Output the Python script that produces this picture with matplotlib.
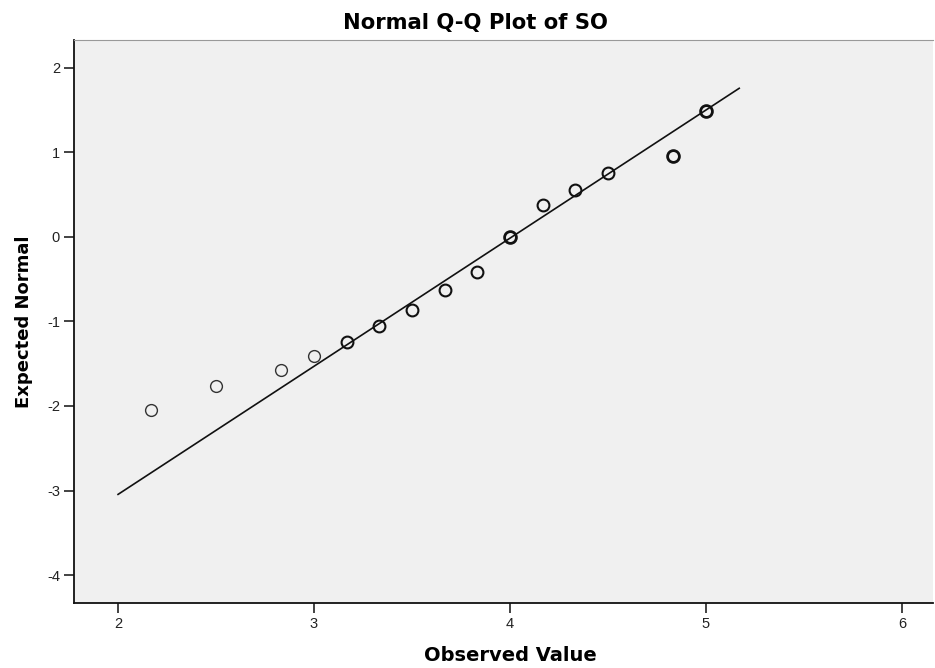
import matplotlib
matplotlib.use("Agg")
import matplotlib.pyplot as plt

plt.rcParams['font.family'] = ['Liberation Sans', 'DejaVu Sans']
plt.rcParams['axes.unicode_minus'] = False

# observed values and expected normal scores
observed = [2.167, 2.5, 2.833, 3.0, 3.167, 3.333, 3.5, 3.667, 3.833, 4.0, 4.167, 4.333, 4.5, 4.833, 5.0]
expected = [-2.05, -1.76, -1.57, -1.41, -1.24, -1.05, -0.86, -0.63, -0.41, 0.0, 0.38, 0.56, 0.75, 0.96, 1.49]
counts = [1, 1, 1, 1, 2, 2, 2, 2, 2, 3, 2, 2, 2, 3, 3]   # overlapping cases

mean_so = 4.01
sd_so = 0.66
line_x = [2.0, 5.17]
line_y = [(v - mean_so) / sd_so for v in line_x]

xticks = [2, 3, 4, 5, 6]
yticks = [-4, -3, -2, -1, 0, 1, 2]

fig = plt.figure(figsize=(9.35, 6.68), dpi=100)
ax = fig.add_axes([0.0791, 0.0973, 0.919, 0.843])
ax.set_facecolor('#f0f0f0')

ax.plot(line_x, line_y, color='#111111', lw=1.2, zorder=2)
for x, y, c in zip(observed, expected, counts):
    ax.plot(x, y, 'o', ms=8.5, mfc='none', mec='#111111' if c > 1 else '#333333',
            mew=1.0 + 0.5 * (c - 1), zorder=3)

ax.set_xlim(1.775, 6.16)
ax.set_ylim(-4.33, 2.33)
ax.set_xticks(xticks)
ax.set_yticks(yticks)
ax.tick_params(length=7, width=1.2, labelsize=10.5, colors='#222222', pad=3)

ax.spines['top'].set_color('#999999')
ax.spines['right'].set_visible(False)
for s in ['left', 'bottom']:
    ax.spines[s].set_linewidth(1.3)
    ax.spines[s].set_color('#111111')

bold = dict(fontweight='bold', family='DejaVu Sans')
ax.set_title('Normal Q-Q Plot of SO', fontsize=15.2, x=0.467, pad=8, **bold)
ax.set_xlabel('Observed Value', fontsize=14, x=0.508, labelpad=11, **bold)
ax.set_ylabel('Expected Normal', fontsize=13, labelpad=10, **bold)

fig.savefig('out.png', dpi=100)
